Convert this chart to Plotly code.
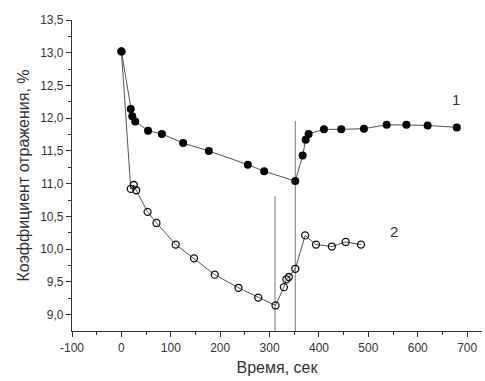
import plotly.graph_objects as go

# Series 1 (filled circles)
t1 = [0, 19, 22, 28, 54, 82, 125, 177, 256, 289, 352, 367, 373, 379, 410, 445, 491, 537, 577, 620, 679]
r1 = [13.02, 12.14, 12.03, 11.95, 11.81, 11.76, 11.62, 11.50, 11.29, 11.19, 11.04,
      11.43, 11.67, 11.76, 11.83, 11.83, 11.84, 11.90, 11.90, 11.89, 11.86]

# Series 2 (open circles)
t2 = [0, 19, 25, 30, 53, 71, 110, 147, 189, 237, 277, 312, 329, 334, 339, 352, 372, 394, 426, 454, 485]
r2 = [13.02, 10.92, 10.98, 10.90, 10.57, 10.40, 10.07, 9.86, 9.61, 9.41, 9.26, 9.14,
      9.42, 9.54, 9.575, 9.70, 10.21, 10.07, 10.04, 10.11, 10.07]

# vertical marker lines
vline_t = [311, 352]
vline_top = [10.81, 11.96]
vline_bottom = 8.75

labels = ["1", "2"]
label_t = [678, 551]
label_r = [12.28, 10.27]

x_ticks = list(range(-100, 701, 100))
x_ticktext = [str(v) for v in x_ticks]

grey = "#555555"
fig = go.Figure()

for t, top in zip(vline_t, vline_top):
    fig.add_trace(go.Scatter(x=[t, t], y=[vline_bottom, top], mode="lines",
                             line=dict(color="#777777", width=1), showlegend=False,
                             hoverinfo="skip"))

fig.add_trace(go.Scatter(x=t2, y=r2, mode="lines+markers",
                         line=dict(color=grey, width=1),
                         marker=dict(symbol="circle-open", size=7, color="#111111",
                                     line=dict(width=1.3, color="#111111")),
                         showlegend=False))
fig.add_trace(go.Scatter(x=t1, y=r1, mode="lines+markers",
                         line=dict(color=grey, width=1),
                         marker=dict(symbol="circle", size=8, color="#000000"),
                         showlegend=False))

for lab, t, r in zip(labels, label_t, label_r):
    fig.add_annotation(x=t, y=r, text=lab, showarrow=False,
                       font=dict(size=15, color="#333333", family="Liberation Sans"))

fig.update_layout(
    width=485, height=381,
    margin=dict(l=72, r=3, t=20, b=50),
    paper_bgcolor="white", plot_bgcolor="white",
    separators=", ",
    font=dict(family="Liberation Sans", color="#333333", size=12),
    showlegend=False,
)
fig.update_xaxes(range=[-100, 730], tickvals=x_ticks, ticktext=x_ticktext,
                 ticks="outside", ticklen=5, tickcolor="#333333",
                 minor=dict(tickvals=list(range(-50, 701, 100)), ticks="outside", ticklen=3, tickcolor="#333333"),
                 showline=True, linecolor="#333333", linewidth=1.2, showgrid=False, zeroline=False,
                 title=dict(text="Время, сек", font=dict(size=16), standoff=8),
                 tickfont=dict(size=12))
fig.update_yaxes(range=[8.75, 13.5], tickvals=[9.0 + 0.5 * i for i in range(10)],
                 tickformat=".1f",
                 ticks="outside", ticklen=5, tickcolor="#333333",
                 minor=dict(tickvals=[9.25 + 0.5 * i for i in range(9)], ticks="outside", ticklen=3, tickcolor="#333333"),
                 showline=True, linecolor="#333333", linewidth=1.2, showgrid=False, zeroline=False,
                 title=dict(text="Коэффициент отражения, %", font=dict(size=16), standoff=6),
                 tickfont=dict(size=12))

fig.write_html("out.html")
